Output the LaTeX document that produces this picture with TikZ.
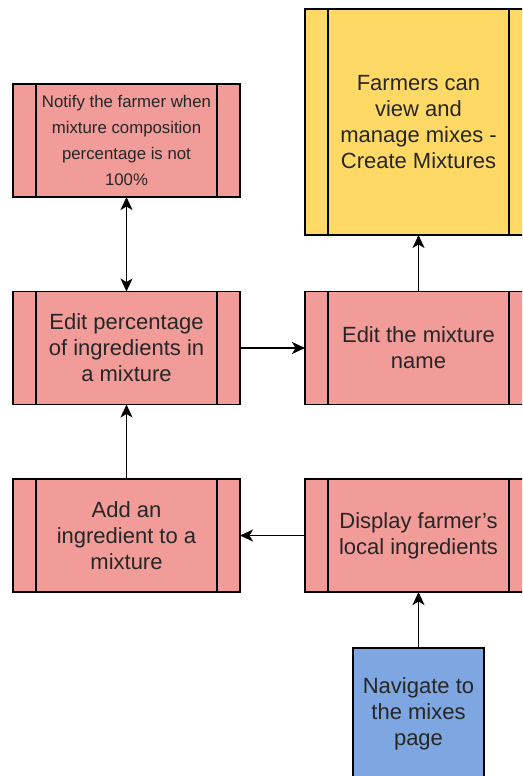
\documentclass[tikz,border=0pt]{standalone}
\usepackage{fontspec}
\setmainfont{Liberation Sans}
\usetikzlibrary{arrows.meta}
\definecolor{pinkfill}{HTML}{F19C99}
\definecolor{yellowfill}{HTML}{FFD966}
\definecolor{bluefill}{HTML}{7EA6E0}
\definecolor{textcol}{HTML}{262626}
\tikzset{
  procbox/.style={draw=black, line width=1.4pt, fill=#1, minimum width=227pt,
    inner sep=0pt, outer sep=0pt, align=center, text=textcol,
    font=\fontsize{22}{26}\selectfont,
    path picture={
      \draw[line width=1.4pt]
        ([xshift=23pt]path picture bounding box.north west) --
        ([xshift=23pt]path picture bounding box.south west);
      \draw[line width=1.4pt]
        ([xshift=-23pt]path picture bounding box.north east) --
        ([xshift=-23pt]path picture bounding box.south east);
    }},
  plainbox/.style={draw=black, line width=1.4pt, fill=#1,
    inner sep=0pt, outer sep=0pt, align=center, text=textcol,
    font=\fontsize{22}{26}\selectfont},
  tipk/.tip={Stealth[length=13pt,width=12pt,inset=3.5pt]},
  conn/.style={line width=1.4pt, draw=black, -tipk},
  dconn/.style={line width=1.4pt, draw=black, tipk-tipk}
}
\begin{document}
\begin{tikzpicture}[x=1pt,y=-1pt]
\useasboundingbox (0,0) rectangle (522,776);
\fill[white] (0,0) rectangle (522,776);
\clip (0,0) rectangle (522,776);

\node[procbox=pinkfill, minimum height=113pt,
      font=\fontsize{16.8}{26}\selectfont] (notify) at (126.5,140.5)
  {Notify the farmer when\\mixture composition\\percentage is not\\100\%};
\node[procbox=yellowfill, minimum height=226pt] (create) at (418.5,122)
  {Farmers can\\view and\\manage mixes -\\Create Mixtures};
\node[procbox=pinkfill, minimum height=113pt] (editpct) at (126.5,348)
  {Edit percentage\\of ingredients in\\a mixture};
\node[procbox=pinkfill, minimum height=113pt] (editname) at (418.5,348)
  {Edit the mixture\\name};
\node[procbox=pinkfill, minimum height=113pt] (add) at (126.5,535.5)
  {Add an\\ingredient to a\\mixture};
\node[procbox=pinkfill, minimum height=113pt] (display) at (418.5,535.5)
  {Display farmer's\\local ingredients};
\node[plainbox=bluefill, minimum width=131pt, minimum height=132pt] (nav) at (418.5,714)
  {Navigate to\\the mixes\\page};

\draw[dconn] (notify.south) -- (editpct.north);
\draw[conn] (editpct.east) -- (editname.west);
\draw[conn] (editname.north) -- (create.south);
\draw[conn] (add.north) -- (editpct.south);
\draw[conn] (display.west) -- (add.east);
\draw[conn] (nav.north) -- (display.south);
\end{tikzpicture}
\end{document}
